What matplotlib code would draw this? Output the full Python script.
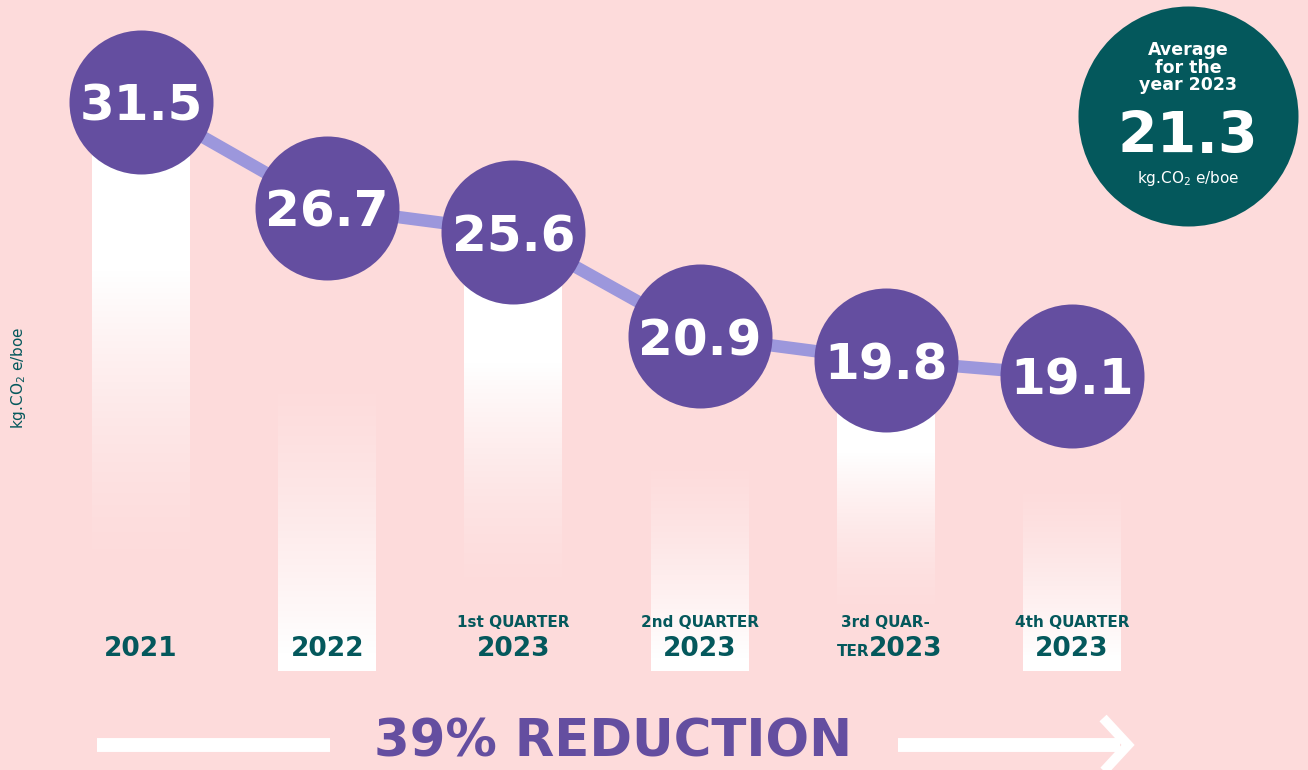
import numpy as np
import matplotlib.pyplot as plt

# emissions intensity, kg CO2e per boe
periods = ['2021', '2022', '2023', '2023', '2023', '2023']
period_tags = ['', '', '1st QUARTER', '2nd QUARTER', '3rd QUAR-', '4th QUARTER']
intensity = [31.5, 26.7, 25.6, 20.9, 19.8, 19.1]
avg_2023 = 21.3
reduction_pct = 39

PINK = '#fddbdb'
PURPLE = '#644ea0'
LINE = '#9c97dc'
TEAL = '#04585c'

fig = plt.figure(figsize=(13.08, 7.70), dpi=100, facecolor=PINK)
ax = fig.add_axes([0, 0, 1, 1])
ax.set_facecolor(PINK)

x = np.arange(len(intensity))
base = 5.75
half_w = 0.263

# white columns: fade out downwards on even ones, fade in towards the base on odd ones
n = 300
for i, v in enumerate(intensity):
    t = np.linspace(0, 1, n)  # 0 = top of column, 1 = base
    if i % 2 == 0:
        a = np.clip(1 - (t - 0.3) / 0.55, 0, 1) ** 1.6
    else:
        a = np.clip((t - 0.36) / 0.6, 0, 1) ** 1.3
    img = np.ones((n, 1, 4))
    img[:, 0, 3] = a
    ax.imshow(img, extent=(i - half_w, i + half_w, base, v), aspect='auto',
              origin='upper', zorder=1, interpolation='bilinear')

ax.plot(x, intensity, color=LINE, lw=9, zorder=2, solid_capstyle='round')
ax.scatter(x, intensity, s=10750, color=PURPLE, zorder=3, linewidths=0)

for i, v in enumerate(intensity):
    ax.text(i, v, f'{v:.1f}', ha='center', va='center_baseline', color='white',
            fontsize=36, fontweight='bold', zorder=4)

# period labels under the columns
tr = ax.get_xaxis_transform()
for i, (p, tag) in enumerate(zip(periods, period_tags)):
    if tag == '3rd QUAR-':
        ax.text(i, 0.191, tag, transform=tr, ha='center', va='center',
                color=TEAL, fontsize=11, fontweight='bold')
        ax.text(i - 0.09, 0.148, 'TER', transform=tr, ha='right', va='baseline',
                color=TEAL, fontsize=11, fontweight='bold')
        ax.text(i - 0.09, 0.148, p, transform=tr, ha='left', va='baseline',
                color=TEAL, fontsize=19, fontweight='bold')
        continue
    if tag:
        ax.text(i, 0.191, tag, transform=tr, ha='center', va='center',
                color=TEAL, fontsize=11, fontweight='bold')
    ax.text(i, 0.148, p, transform=tr, ha='center', va='baseline',
            color=TEAL, fontsize=19, fontweight='bold')

ax.text(0.014, 0.509, 'kg.CO$_2$ e/boe', transform=ax.transAxes, rotation=90,
        ha='center', va='center', color=TEAL, fontsize=11)

# yearly average badge
ax.scatter([0.9083], [0.8494], s=25090, color=TEAL, transform=ax.transAxes,
           zorder=3, linewidths=0)
ax.text(0.9083, 0.912, 'Average\nfor the\nyear 2023', transform=ax.transAxes,
        ha='center', va='center', color='white', fontsize=12.5, fontweight='bold',
        linespacing=0.95, zorder=4)
ax.text(0.9083, 0.801, f'{avg_2023:.1f}', transform=ax.transAxes, ha='center',
        va='baseline', color='white', fontsize=41, fontweight='bold', zorder=4)
ax.text(0.9083, 0.768, 'kg.CO$_2$ e/boe', transform=ax.transAxes, ha='center',
        va='center', color='white', fontsize=11, zorder=4)

# reduction banner with arrow
ax.text(0.469, 0.018, f'{reduction_pct}% REDUCTION', transform=ax.transAxes,
        ha='center', va='baseline', color=PURPLE, fontsize=37,
        fontweight='bold')
ax.plot([0.0742, 0.2523], [0.0325, 0.0325], transform=ax.transAxes,
        color='white', lw=10, solid_capstyle='butt')
ax.plot([0.6865, 0.856], [0.0325, 0.0325], transform=ax.transAxes,
        color='white', lw=10, solid_capstyle='butt')
ax.plot([0.8433, 0.8624, 0.8433], [0.0675, 0.0325, -0.0026],
        transform=ax.transAxes, color='white', lw=7, solid_joinstyle='miter',
        solid_capstyle='butt')

ax.set_xlim(-0.757, 6.267)
ax.set_ylim(1.27, 36.10)
ax.axis('off')

fig.savefig('out.png', dpi=100, facecolor=PINK)
